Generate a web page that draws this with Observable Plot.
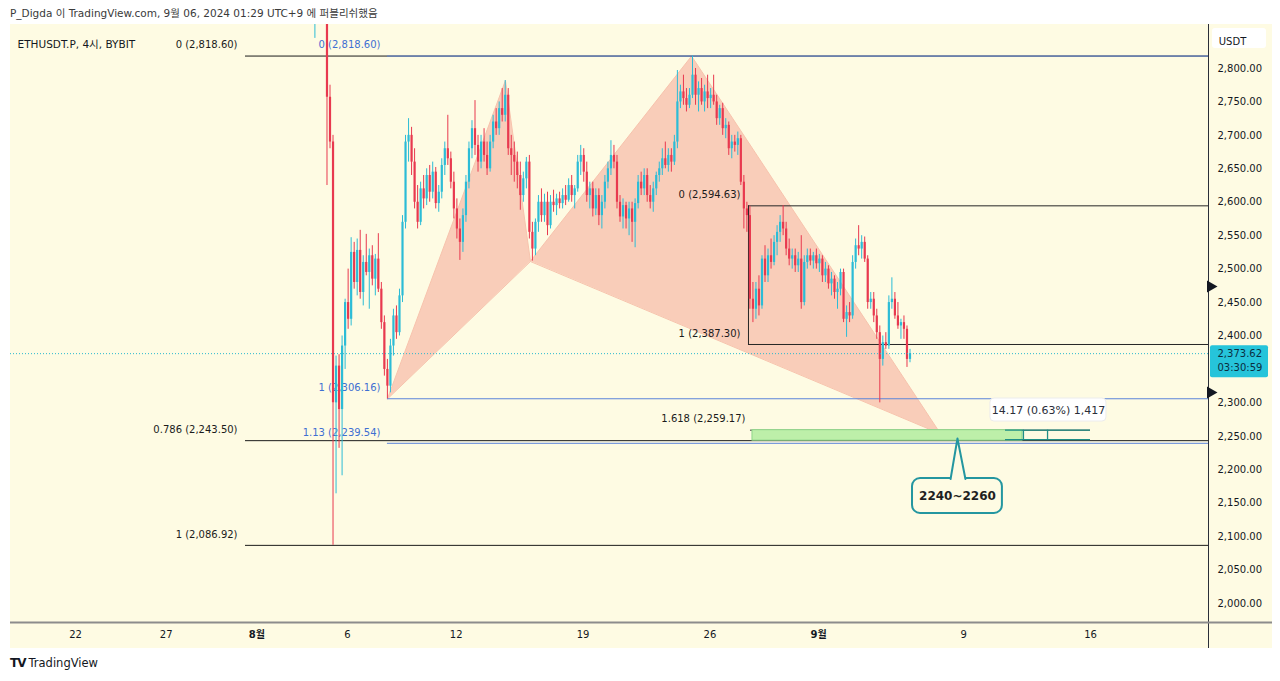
<!DOCTYPE html>
<html><head><meta charset="utf-8">
<script src="https://cdn.jsdelivr.net/npm/d3@7"></script>
<script src="https://cdn.jsdelivr.net/npm/@observablehq/plot@0.6"></script>
<style>
body{margin:0;background:#fff;width:1280px;height:681px;position:relative;overflow:hidden;font-family:"DejaVu Sans","Noto Sans CJK KR",sans-serif;}
#hdr{position:absolute;left:10px;top:5px;font-size:10.5px;color:#3a3a3a;white-space:nowrap;}
#chart{position:absolute;left:10px;top:24px;}
#ftr{position:absolute;left:10px;top:656px;font-size:11.5px;color:#131722;white-space:nowrap;}
#ftr b{font-size:12px;letter-spacing:-1px;margin-right:3px;}
</style></head><body>
<div id="hdr">P_Digda 이 TradingView.com, 9월 06, 2024 01:29 UTC+9 에 퍼블리쉬했음</div>
<div id="chart"></div>
<div id="ftr"><b>TV</b>TradingView</div>
<script>
// ---- Data (4h candles, ETHUSDT.P BYBIT; x in days since 2024-07-22 00:00 UTC+9) ----
const firstCandleDay = 13 + 5/24;   // 2024-08-04 05:00
const firstOpen = 2890;
const closes = [2930,2910,2900,2885,
2757,2690,2300,2355,2290,2385,2450,2425,2525,2480,2528,2465,2510,2495,2520,2485,2515,2470,2420,2350,2325,2385,2430,2405,2460,2570,
2690,2700,2660,2600,2570,2620,2605,2640,2615,2645,2598,2615,2655,2680,2665,2630,2590,2560,2540,2580,2630,2680,2710,2685,2660,2690,
2670,2650,2690,2720,2710,2740,2730,2760,2680,2670,2660,2640,2610,2635,2660,2555,2530,2570,2600,2580,2600,2565,2600,2595,2605,2598,
2610,2603,2625,2610,2620,2660,2670,2645,2610,2620,2590,2610,2580,2600,2630,2650,2670,2660,2600,2578,2595,2575,2590,2570,2598,2630,
2620,2640,2610,2600,2620,2640,2650,2665,2655,2670,2660,2690,2750,2765,2755,2745,2760,2790,2760,2770,2750,2765,2755,2760,2750,2725,
2740,2710,2715,2680,2690,2685,2695,2630,2590,2580,2455,2440,2470,2445,2515,2490,2520,2510,2540,2555,2570,2560,2530,2515,2520,2505,
2515,2450,2510,2520,2512,2520,2508,2515,2490,2500,2478,2485,2465,2470,2495,2425,2435,2430,2510,2535,2530,2540,2515,2450,2455,2430,
2405,2365,2390,2385,2450,2455,2430,2415,2420,2410,2365,2373.62];
const highs = [2950,2960,2940,2915,
2900,2775,2700,2370,2372,2400,2455,2500,2547,2540,2545,2558,2520,2552,2530,2535,2522,2553,2480,2430,2365,2395,2440,2445,2470,2580,
2700,2725,2712,2680,2625,2630,2640,2650,2655,2660,2652,2625,2665,2690,2730,2675,2645,2605,2575,2590,2640,2690,2722,2752,2700,2700,
2710,2690,2700,2730,2740,2750,2770,2782,2770,2700,2690,2675,2660,2645,2667,2670,2570,2575,2610,2620,2612,2615,2610,2618,2612,2615,
2620,2625,2635,2640,2625,2670,2685,2680,2660,2630,2630,2620,2620,2610,2640,2660,2692,2685,2670,2610,2605,2600,2600,2600,2605,2640,
2645,2650,2650,2625,2630,2645,2660,2680,2690,2680,2680,2700,2797,2775,2790,2770,2770,2818.6,2800,2780,2785,2775,2790,2770,2790,2760,
2745,2748,2725,2720,2700,2700,2705,2700,2640,2600,2594,2480,2480,2490,2520,2535,2530,2545,2550,2565,2580,2595,2570,2545,2530,2530,
2525,2550,2520,2530,2530,2525,2530,2522,2520,2510,2505,2495,2490,2480,2500,2500,2445,2450,2520,2545,2565,2550,2548,2520,2465,2465,
2440,2415,2400,2405,2460,2487,2465,2450,2425,2430,2415,2380];
const lows = [2845,2890,2885,2880,
2625,2680,2087,2164,2232,2191,2350,2410,2415,2470,2460,2455,2445,2490,2440,2475,2460,2465,2410,2340,2306,2315,2370,2395,2400,2450,
2560,2660,2640,2590,2560,2565,2590,2595,2600,2605,2590,2585,2605,2640,2655,2620,2575,2545,2513,2525,2570,2620,2665,2670,2645,2650,
2660,2640,2645,2680,2700,2700,2720,2720,2670,2640,2630,2620,2588,2600,2620,2545,2512,2520,2555,2570,2570,2550,2560,2585,2580,2590,
2590,2595,2600,2600,2590,2615,2640,2630,2600,2590,2578,2580,2565,2560,2590,2620,2640,2650,2590,2570,2560,2560,2550,2540,2532,2590,
2610,2610,2600,2590,2585,2610,2630,2640,2650,2645,2645,2655,2680,2740,2745,2735,2740,2755,2745,2735,2745,2735,2740,2740,2745,2715,
2715,2700,2695,2670,2665,2675,2670,2625,2560,2555,2440,2420,2425,2430,2440,2480,2480,2500,2505,2520,2540,2550,2520,2505,2500,2495,
2495,2440,2445,2500,2505,2500,2500,2495,2480,2480,2470,2460,2455,2440,2460,2420,2398,2420,2425,2500,2520,2515,2510,2440,2440,2420,
2395,2300,2355,2380,2380,2440,2425,2410,2395,2395,2353,2360];
const lastPrice = 2373.62;
const countdown = "03:30:59";

const tickDays = [0, 5, 15, 21, 28, 35, 49, 56];
const tickLabels = ["22", "27", "6", "12", "19", "26", "9", "16"];
const monthDays = [10, 41];
const monthLabels = ["8월", "9월"];
const priceTicks = [2000,2050,2100,2150,2200,2250,2300,2350,2400,2450,2500,2550,2600,2650,2700,2750,2800];

// harmonic pattern X A B C D
const harmonicDays = [17.21, 23.72, 25.10, 33.99, 47.72];
const harmonicPrices = [2306.16, 2782, 2512, 2818.6, 2254];

// fib retracements
const fib1Start = 9.38, fib1Ratios = ["0","0.786","1"], fib1Prices = [2818.60, 2243.50, 2086.92];
const fib2Start = 17.21, fib2Ratios = ["0","1","1.13"], fib2Prices = [2818.60, 2306.16, 2239.54];
const fib3Start = 37.13, fib3Ratios = ["0","1"], fib3Prices = [2594.63, 2387.30];
const fib3ExtRatio = "1.618", fib3ExtPrice = 2259.17, fib3ExtDays = [37.24, 56.0];

// target zone and ruler
const zoneDays = [37.35, 52.25], zonePrices = [2243.5, 2259.17];
const rulerDays = [51.31, 56.0], rulerDividers = [52.30, 53.63], rulerPrices = [2245, 2259.17];
const rulerText = "14.17 (0.63%) 1,417";
const rulerBoxDays = [50.48, 56.88], rulerBoxPrices = [2272.1, 2306.5], rulerTextAt = [53.68, 2289];
const calloutText = "2240~2260";
const calloutBoxDays = [46.18, 51.14], calloutBoxPrices = [2134.6, 2186.9];
const calloutTip = [48.66, 2246.7], calloutBaseDays = [48.28, 49.10], calloutBasePrice = 2186.2;
const calloutTextAt = [48.66, 2160.5];
const alertPrices = [2474, 2315.5];
const symbolText = "ETHUSDT.P, 4시, BYBIT";

// ---- Build ----
const candles = closes.map((c, i) => ({
  t: firstCandleDay + i / 6, open: i ? closes[i - 1] : firstOpen, close: c, high: highs[i], low: lows[i]
}));
const UP = "#2cbcd6", DOWN = "#e8394f";
const col = d => d.close >= d.open ? UP : DOWN;
const fmt = d3.format(",.2f");
const xMin = -3.5862, xMax = 62.5103;
const yMin = 1971.59, yMax = 2865.79;
const pxDay = 18.125, pxPrice = 0.66875;

const tri = [[0,1,2],[2,3,4]].flatMap((idx, k) => idx.map(j => ({z: k, d: harmonicDays[j], p: harmonicPrices[j]})));
const fib = (ratios, prices, start) => ratios.map((r, i) => ({r, p: prices[i], s: start, label: `${r} (${fmt(prices[i])})`}));
const f1 = fib(fib1Ratios, fib1Prices, fib1Start);
const f2 = fib(fib2Ratios, fib2Prices, fib2Start);
const f3 = fib(fib3Ratios, fib3Prices, fib3Start);
const f3e = [{p: fib3ExtPrice, label: `${fib3ExtRatio} (${fmt(fib3ExtPrice)})`}];

const chart = Plot.plot({
  width: 1262, height: 624,
  marginTop: 0, marginLeft: 0, marginRight: 64, marginBottom: 26,
  x: {type: "linear", domain: [xMin, xMax]},
  y: {type: "linear", domain: [yMin, yMax]},
  style: {background: "#fefbe3", fontFamily: '"DejaVu Sans","Noto Sans CJK KR",sans-serif', fontSize: "10px", color: "#131722", overflow: "visible"},
  marks: [
    // harmonic triangles
    Plot.line(tri, {x: "d", y: "p", z: "z", fill: "#f9cdb9", stroke: "#f7c3ad", strokeWidth: 1, curve: "linear-closed", clip: true}),
    // fib 1 (black)
    Plot.ruleY(f1, {y: "p", x1: d => d.s, x2: () => xMax, stroke: "#1b1b1b", strokeWidth: 1}),
    Plot.text(f1, {x: d => d.s, y: "p", text: "label", textAnchor: "end", dx: -8, dy: -11, fill: "#1b1b1b"}),
    // fib 2 (blue)
    Plot.ruleY(f2, {y: "p", x1: d => d.s, x2: () => xMax, stroke: "#5b84da", strokeWidth: 1}),
    Plot.text(f2, {x: d => d.s, y: "p", text: "label", textAnchor: "end", dx: -7, dy: -11, fill: "#3e6fd2"}),
    // fib 3 (black)
    Plot.ruleY(f3, {y: "p", x1: d => d.s, x2: () => xMax, stroke: "#262626", strokeWidth: 1}),
    Plot.ruleX([fib3Start], {x: d => d, y1: fib3Prices[1], y2: fib3Prices[0], stroke: "#262626", strokeWidth: 1}),
    Plot.text(f3, {x: d => d.s, y: "p", text: "label", textAnchor: "end", dx: -8, dy: -11, fill: "#1b1b1b"}),
    Plot.ruleY(f3e, {y: "p", x1: () => fib3ExtDays[0], x2: () => fib3ExtDays[1], stroke: "#3a3a3a", strokeWidth: 1}),
    Plot.text(f3e, {x: () => fib3ExtDays[0], y: "p", text: "label", textAnchor: "end", dx: -5, dy: -11, fill: "#1b1b1b"}),
    // target zone
    Plot.rect([0], {x1: zoneDays[0], x2: zoneDays[1], y1: zonePrices[0], y2: zonePrices[1], fill: "#bdefa9", stroke: "#8ed68a", strokeWidth: 1}),
    // candles
    Plot.ruleX(candles, {x: "t", y1: "low", y2: "high", stroke: col, strokeWidth: 1, clip: true}),
    Plot.ruleX(candles, {x: "t", y1: "open", y2: "close", stroke: col, strokeWidth: 2.2, clip: true}),
    // last price dotted line
    Plot.ruleY([lastPrice], {y: d => d, stroke: "#2bb8cf", strokeDasharray: "1,2", strokeWidth: 1}),
    // ruler
    Plot.ruleY(rulerPrices, {y: d => d, x1: () => rulerDays[0], x2: () => rulerDays[1], stroke: "#1f8f86", strokeWidth: 1.3}),
    Plot.ruleX(rulerDividers, {x: d => d, y1: rulerPrices[0], y2: rulerPrices[1], stroke: "#1f8f86", strokeWidth: 1.3}),
    Plot.rect([0], {x1: rulerBoxDays[0], x2: rulerBoxDays[1], y1: rulerBoxPrices[0], y2: rulerBoxPrices[1], fill: "#ffffff", rx: 4, stroke: "#ececec"}),
    Plot.text([rulerText], {x: rulerTextAt[0], y: rulerTextAt[1], text: d => d, fontSize: 11, fill: "#2a2e39"}),
    // callout
    Plot.rect([0], {x1: calloutBoxDays[0], x2: calloutBoxDays[1], y1: calloutBoxPrices[0], y2: calloutBoxPrices[1], fill: "#fefbe3", rx: 8, stroke: "#2496a0", strokeWidth: 2}),
    Plot.areaY([{x: calloutBaseDays[0], y: calloutBasePrice}, {x: calloutTip[0], y: calloutTip[1]}, {x: calloutBaseDays[1], y: calloutBasePrice}],
      {x: "x", y1: calloutBasePrice - 1.5, y2: "y", fill: "#fefbe3", curve: "linear"}),
    Plot.line([{x: calloutBaseDays[0], y: calloutBasePrice}, {x: calloutTip[0], y: calloutTip[1]}, {x: calloutBaseDays[1], y: calloutBasePrice}],
      {x: "x", y: "y", stroke: "#2496a0", strokeWidth: 2, curve: "linear"}),
    Plot.text([calloutText], {x: calloutTextAt[0], y: calloutTextAt[1], text: d => d, fontSize: 12, fontWeight: "bold", fill: "#1f1f1f"}),
    // panel separators
    Plot.ruleX([xMax], {x: d => d, y1: yMin - 26 / pxPrice, y2: yMax, stroke: "#2a2e39", strokeWidth: 1}),
    Plot.ruleY([yMin], {y: d => d, x1: () => xMin, x2: () => xMax + 64 / pxDay, stroke: "#8c8c8c", strokeWidth: 2}),
    // axes
    Plot.axisY(priceTicks, {anchor: "right", tickSize: 0, tickPadding: 9, tickFormat: fmt, label: null, fontSize: 10, fill: "#131722"}),
    Plot.axisX(tickDays, {anchor: "bottom", tickSize: 0, tickPadding: 8, tickFormat: (d, i) => tickLabels[i], label: null, fontSize: 10, fill: "#131722"}),
    Plot.axisX(monthDays, {anchor: "bottom", tickSize: 0, tickPadding: 8, tickFormat: (d, i) => monthLabels[i], label: null, fontSize: 10, fontWeight: "bold", fill: "#131722"}),
    // price-scale badges
    Plot.rect([0], {x1: xMax + 4 / pxDay, x2: xMax + 58 / pxDay, y1: yMax - 24 / pxPrice, y2: yMax - 4 / pxPrice, fill: "#ffffff", rx: 3}),
    Plot.text(["USDT"], {x: xMax + 24 / pxDay, y: yMax - 17 / pxPrice, text: d => d, fontSize: 10, fill: "#131722"}),
    Plot.rect([0], {x1: xMax + 2 / pxDay, x2: xMax + 60 / pxDay, y1: lastPrice - 24 / pxPrice, y2: lastPrice + 8 / pxPrice, fill: "#26c4da", rx: 2}),
    Plot.text([fmt(lastPrice)], {x: () => xMax, y: () => lastPrice, text: d => d, dx: 9, textAnchor: "start", fontSize: 10, fill: "#0b2e3f"}),
    Plot.text([countdown], {x: () => xMax, y: () => lastPrice, text: d => d, dx: 9, dy: 14, textAnchor: "start", fontSize: 10, fill: "#0b2e3f"}),
    Plot.dot(alertPrices, {x: () => xMax, y: d => d, symbol: "triangle", r: 4.5, rotate: 90, fill: "#131722", dx: 2}),
    // symbol
    Plot.text([symbolText], {frameAnchor: "top-left", dx: 7, dy: 16, text: d => d, fontSize: 10.5, fill: "#131722"})
  ]
});
document.getElementById("chart").appendChild(chart);
</script></body></html>
